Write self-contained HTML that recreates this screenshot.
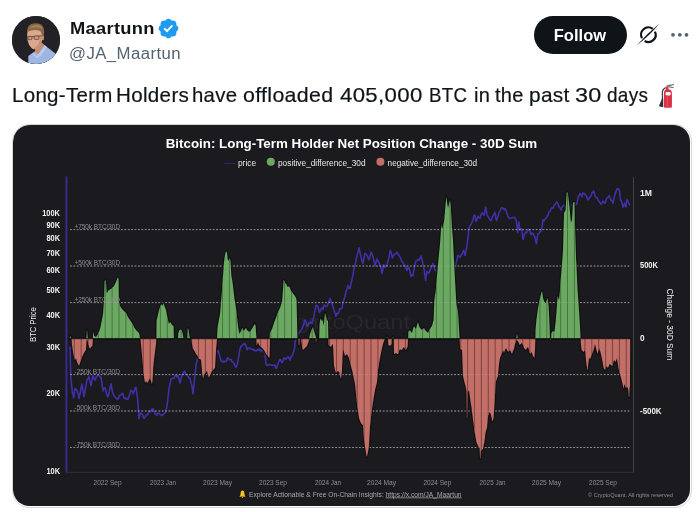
<!DOCTYPE html>
<html lang="en">
<head>
<meta charset="utf-8">
<title>Maartunn on X</title>
<style>
html,body{margin:0;padding:0;background:#fff;}
body{width:700px;height:512px;position:relative;overflow:hidden;font-family:"Liberation Sans",sans-serif;color:#0f1419;}
.avatar{position:absolute;left:12px;top:16px;width:48px;height:48px;border-radius:50%;overflow:hidden;background:#222126;}
.name{position:absolute;left:70px;top:18.4px;font-size:17px;line-height:22px;font-weight:700;letter-spacing:0.3px;white-space:nowrap;transform:scaleX(1.075);transform-origin:0 0;}
.badge{position:absolute;left:156.6px;top:16.9px;width:23px;height:23px;}
.handle{position:absolute;left:69px;top:42.6px;font-size:15.6px;line-height:22px;color:#536471;letter-spacing:0.4px;white-space:nowrap;transform:scaleX(1.075);transform-origin:0 0;}
.follow{position:absolute;left:534px;top:16px;width:93px;height:38px;border-radius:19px;background:#0f1419;color:#fff;font-weight:700;font-size:16.5px;line-height:38px;text-align:center;letter-spacing:0.05px;text-indent:-1px;}
.grok{position:absolute;left:634px;top:21px;width:28px;height:28px;}
.more{position:absolute;left:668px;top:30px;width:24px;height:10px;}
.text{position:absolute;left:0;top:81.7px;width:700px;height:26px;font-size:19.8px;line-height:26px;letter-spacing:0.3px;white-space:nowrap;-webkit-text-stroke:0.2px #0f1419;}
.text span{position:absolute;top:0;transform-origin:0 0;}
.emoji{position:absolute;left:656px;top:82px;width:22px;height:26px;}
.media{position:absolute;left:12px;top:124px;width:680px;height:384px;box-sizing:border-box;border:1px solid #cfd9de;border-radius:17.5px;overflow:hidden;background:#fff;}
.chart{position:absolute;left:0;top:0;border-radius:16.5px;display:block;}
</style>
</head>
<body>
<div class="avatar">
<svg width="48" height="48" viewBox="12 16 48 48">
<rect x="12" y="16" width="48" height="48" fill="#222126"/>
<path d="M28.3 64 L28.3 55.9 L33.5 52.2 L44.7 45.2 L55.4 53.4 L56.5 64 Z" fill="#9fb5e2"/>
<path d="M35.3 49 L41.6 42.5 L45.2 45.6 L38.5 54 L34.6 52.4 Z" fill="#c48e76"/>
<path d="M33.2 52.4 L36.8 56.4 L40.5 51 L44.8 45.3 L46.8 47 L41 55.5 L37 58.5 L32.8 54 Z" fill="#b9caee"/>
<ellipse cx="42.7" cy="37.6" rx="1.4" ry="2.7" fill="#c9917a"/>
<path d="M27.3 31 Q26.9 37 27.6 40.4 Q28.6 45.2 31.4 48 Q33.4 49.9 35.6 49 L40.8 44.4 Q42.5 40 42.2 35 L41.5 30.5 Q34 27.5 27.3 31 Z" fill="#dca88c"/>
<path d="M36 49 L40.8 44.4 Q42.4 40.5 42.2 36 L40 37 Q40 42 37 45.5 Q35 48 33 48.8 Z" fill="#c9937a"/>
<path d="M27.1 32 Q26.6 26 32 23.8 Q37 22.4 41.2 24.6 Q44.8 27.4 44 34 L43.5 36.4 L41.6 35.6 Q41.9 32 39.6 30.8 Q34 29 28.2 31.6 L27.4 33.6 Z" fill="#8a6847"/>
<path d="M29 28.6 Q33 24.4 38.5 25 Q41.5 26 42.6 29 Q38 26.6 33.4 27.6 Z" fill="#a6835a"/>
<path d="M27.2 36.9 L41.8 35.9" stroke="#3a2e2a" stroke-width="0.7" fill="none"/>
<rect x="27.8" y="36.3" width="4.3" height="3.4" rx="1.4" fill="#c9957d" stroke="#3a2e2a" stroke-width="0.6"/>
<rect x="33.9" y="35.9" width="5.2" height="3.6" rx="1.5" fill="#c9957d" stroke="#3a2e2a" stroke-width="0.6"/>
</svg>
</div>
<div class="name">Maartunn</div>
<svg class="badge" viewBox="0 0 24 24"><path fill="#1d9bf0" d="M22.25 12c0-1.43-.88-2.67-2.19-3.34.46-1.39.2-2.9-.81-3.91s-2.52-1.27-3.91-.81c-.66-1.31-1.91-2.19-3.34-2.19s-2.67.88-3.33 2.19c-1.4-.46-2.91-.2-3.92.81s-1.26 2.52-.8 3.91c-1.31.67-2.2 1.91-2.2 3.34s.89 2.67 2.2 3.34c-.46 1.39-.21 2.9.8 3.91s2.52 1.26 3.91.81c.67 1.31 1.91 2.19 3.34 2.19s2.68-.88 3.34-2.19c1.39.45 2.9.2 3.91-.81s1.27-2.52.81-3.91c1.31-.67 2.19-1.91 2.19-3.34z"/><path fill="#fff" d="M10.54 16.2l-3.74-3.74 1.41-1.42 2.26 2.26 4.8-5.23 1.47 1.36z"/></svg>
<div class="handle">@JA_Maartun</div>
<div class="follow">Follow</div>
<svg class="grok" viewBox="634 21 28 28">
<path d="M641.99 38.33 A7.3 7.3 0 0 1 652.77 28.94" fill="none" stroke="#0f1419" stroke-width="2.2"/>
<path d="M654.94 31.61 A7.3 7.3 0 0 1 644.59 41.01" fill="none" stroke="#0f1419" stroke-width="2.2"/>
<path d="M636.9 45.3 Q647 33.4 659.3 23.7 Q649.4 35.8 636.9 45.3 Z" fill="#0f1419"/>
</svg>
<svg class="more" viewBox="668 30 24 10"><circle cx="673" cy="34.8" r="1.9" fill="#536471"/><circle cx="679.8" cy="34.8" r="1.9" fill="#536471"/><circle cx="686.5" cy="34.8" r="1.9" fill="#536471"/></svg>
<div class="text"><span style="left:12.00px;transform:scaleX(1.0360)">Long-Term</span> <span style="left:115.60px;transform:scaleX(1.0412)">Holders</span> <span style="left:192.35px;transform:scaleX(1.0279)">have</span> <span style="left:243.40px;transform:scaleX(1.0789)">offloaded</span> <span style="left:340.10px;transform:scaleX(1.1221)">405,000</span> <span style="left:429.15px;transform:scaleX(0.9443)">BTC</span> <span style="left:473.65px;transform:scaleX(1.0115)">in</span> <span style="left:494.95px;transform:scaleX(1.0105)">the</span> <span style="left:528.80px;transform:scaleX(1.0547)">past</span> <span style="left:575.40px;transform:scaleX(1.1833)">30</span> <span style="left:607.35px;transform:scaleX(0.9592)">days</span></div>
<svg class="emoji" viewBox="656 82 22 26">
<path d="M665.6 87.6 Q662.2 89.4 662.3 93.5 L662.4 99" fill="none" stroke="#292f33" stroke-width="1.1"/>
<path d="M662 98.4 L663.2 98.6 L663.2 107.2 L658.9 106.2 Z" fill="#292f33"/>
<path d="M666.2 85.2 L673.9 83.9 L674.1 84.9 L668 86.6 Z" fill="#66757f"/>
<path d="M668.8 86 L673.8 87.2 L673.5 88.3 L668.4 87.2 Z" fill="#66757f"/>
<rect x="665.7" y="86.4" width="2.8" height="3.4" fill="#dd2e44"/>
<circle cx="666.5" cy="87" r="0.7" fill="#77b255"/>
<path d="M663.9 107.4 L663.9 93 Q663.9 89.2 667.9 89.2 Q671.9 89.2 671.9 93 L671.9 107.4 Q667.9 107.9 663.9 107.4 Z" fill="#dd2e44"/>
<rect x="666.6" y="96" width="1.6" height="11" fill="#e85064" opacity="0.8"/>
<rect x="665.4" y="92.1" width="5.4" height="3.4" rx="1.4" fill="#f5f8fa"/>
</svg>
<div class="media">
<svg class="chart" width="677" height="381" viewBox="13 125 677 381" font-family="Liberation Sans, sans-serif">
<rect x="13" y="125" width="677" height="381" fill="#1b1a1f"/>
<text x="276" y="329" font-size="20.5" fill="#28272d" textLength="134" lengthAdjust="spacingAndGlyphs">CryptoQuant</text>
<line x1="66.4" y1="176.6" x2="66.4" y2="472.5" stroke="#372b8c" stroke-width="2"/>
<line x1="633.5" y1="177" x2="633.5" y2="472.5" stroke="#424248" stroke-width="1"/>
<line x1="66" y1="472.3" x2="634" y2="472.3" stroke="#303036" stroke-width="1"/>
<polyline points="70.0,347.0 70.5,364.8 71.0,380.3 71.7,385.9 72.3,391.8 72.9,394.4 73.6,397.9 74.3,393.7 75.0,388.3 75.7,389.3 76.3,389.5 77.0,390.2 77.7,392.8 78.3,394.3 79.0,398.5 79.8,394.8 80.5,391.3 81.2,387.0 82.0,384.0 83.0,390.5 84.0,396.7 84.8,392.7 85.5,388.0 86.2,384.3 87.0,379.6 87.7,379.2 88.3,378.2 89.0,376.6 89.7,380.7 90.3,382.7 91.0,385.7 91.7,381.6 92.3,378.6 93.0,375.8 93.7,377.3 94.3,379.0 95.0,380.1 95.8,378.2 96.5,376.4 97.2,375.7 98.0,375.7 98.8,375.0 99.5,376.1 100.2,377.3 101.0,377.1 102.0,384.0 103.0,390.8 103.7,388.1 104.3,388.5 105.0,387.9 105.8,390.0 106.5,393.3 107.2,395.5 108.0,397.1 108.8,394.5 109.5,390.4 110.2,387.1 111.0,383.9 112.0,389.2 113.0,394.1 113.7,394.2 114.3,396.4 115.0,396.6 115.7,397.7 116.3,398.2 117.0,399.4 117.8,398.7 118.5,398.8 119.2,395.8 120.0,395.1 120.7,395.1 121.3,394.9 122.0,393.3 122.7,393.5 123.3,394.8 124.0,398.2 124.7,397.7 125.3,397.7 126.0,399.1 126.7,399.3 127.3,398.9 128.0,399.1 128.8,396.8 129.5,395.0 130.2,392.4 131.0,390.3 131.7,391.3 132.3,391.1 133.0,393.8 133.8,392.1 134.5,390.3 135.2,387.8 136.0,387.6 137.0,394.5 137.6,398.9 138.3,408.9 139.0,418.6 140.0,414.2 141.0,413.0 141.8,413.8 142.5,414.9 143.2,416.7 144.0,418.4 144.8,417.1 145.5,416.7 146.2,415.1 147.0,414.8 147.8,414.6 148.5,413.0 149.2,411.5 150.0,411.6 150.8,411.4 151.5,409.7 152.2,408.7 153.0,408.9 153.8,410.4 154.5,411.8 155.2,414.3 156.0,414.4 156.8,415.3 157.5,413.2 158.2,413.0 159.0,413.4 159.8,414.2 160.5,414.5 161.2,415.0 162.0,415.7 162.8,414.9 163.5,414.3 164.2,413.4 165.0,413.2 166.0,410.3 167.0,406.0 168.0,397.5 169.0,388.3 170.0,384.2 171.0,379.2 171.8,378.5 172.5,378.3 173.2,378.2 174.0,378.6 175.0,375.8 176.0,375.2 177.0,377.1 178.0,375.5 179.0,379.3 180.0,383.1 181.0,379.2 182.0,375.1 183.0,372.7 183.7,372.4 184.4,371.2 185.1,371.7 185.7,374.5 186.3,374.2 187.0,374.7 187.8,375.9 188.5,376.9 189.2,378.5 190.0,378.4 191.0,382.7 191.6,384.6 192.3,388.3 193.0,394.0 193.7,387.6 194.4,380.5 195.2,373.9 196.0,365.0 197.0,360.8 198.0,356.8 199.0,357.4 200.0,359.7 200.7,356.9 201.3,358.7 202.0,356.6 202.7,357.4 203.3,355.6 204.0,356.1 204.7,356.6 205.3,355.6 206.0,355.6 206.7,355.8 207.3,355.3 208.0,354.9 208.7,355.8 209.3,355.3 210.0,354.3 210.7,356.0 211.3,353.5 212.0,354.5 212.7,353.5 213.3,353.4 214.0,353.4 214.7,352.8 215.3,352.7 216.0,351.1 216.7,350.8 217.3,351.7 218.0,350.4 219.0,353.4 220.0,357.1 221.0,360.8 222.0,361.4 222.8,362.1 223.5,360.9 224.2,361.8 225.0,361.3 225.8,361.5 226.5,361.0 227.2,358.0 228.0,357.9 229.0,359.1 230.0,359.9 231.0,359.3 232.0,361.8 233.0,361.9 234.0,363.6 234.6,365.2 235.2,366.2 235.8,367.4 236.4,366.4 237.2,364.7 238.0,360.9 239.0,354.9 240.0,348.9 241.0,346.6 242.0,345.6 242.8,344.6 243.5,344.1 244.2,344.7 245.0,343.4 246.0,345.6 247.0,349.8 248.0,347.9 249.0,348.5 249.8,348.4 250.5,348.1 251.2,348.7 252.0,349.5 252.8,349.3 253.5,350.3 254.2,349.7 255.0,350.6 255.8,350.9 256.5,351.0 257.2,349.6 258.0,350.5 258.8,349.1 259.5,349.8 260.2,349.6 261.0,351.6 262.0,349.8 263.0,350.0 264.0,351.9 265.0,354.0 265.5,358.6 266.0,364.1 267.0,365.6 268.0,365.0 269.0,364.8 270.0,364.6 271.0,364.9 272.0,365.2 273.0,365.2 274.0,365.6 274.6,364.8 275.2,366.1 275.8,367.9 276.4,368.5 277.2,365.5 278.0,363.5 279.0,361.6 280.0,359.3 281.0,360.6 282.0,362.6 283.0,361.1 284.0,357.7 285.0,358.5 286.0,359.5 287.0,357.6 288.0,356.9 289.0,357.8 290.0,360.2 291.0,356.6 292.0,356.2 293.0,353.6 294.0,350.8 294.5,348.4 295.0,343.8 295.5,339.7 296.0,337.5 297.0,336.2 298.0,333.7 298.8,333.5 299.5,332.4 300.2,331.4 301.0,330.2 301.8,329.3 302.5,327.4 303.2,325.8 304.0,322.7 304.5,321.5 305.0,319.8 306.0,321.8 307.0,325.7 307.8,326.2 308.5,322.9 309.2,323.3 310.0,323.5 311.0,321.9 312.0,323.4 313.0,320.1 314.0,315.9 315.0,310.3 316.0,305.5 317.0,305.5 318.0,306.9 319.0,311.2 319.6,312.5 320.2,311.0 320.8,309.9 321.4,308.4 322.0,307.8 323.0,309.5 324.0,305.1 325.0,305.5 326.0,306.5 327.0,306.6 328.0,303.7 329.0,301.4 330.0,298.4 331.0,301.4 332.0,303.3 333.0,307.0 334.0,310.3 335.0,313.0 336.0,316.3 337.0,313.3 338.0,313.6 339.0,311.2 340.0,308.6 341.0,308.8 342.0,308.1 343.0,302.2 344.0,299.6 345.0,296.2 346.0,292.1 347.0,288.8 348.0,285.4 349.0,288.3 350.0,288.6 351.0,283.3 352.0,279.2 353.0,275.0 354.0,268.6 355.0,265.1 356.0,260.5 357.0,255.5 358.0,252.2 359.0,247.7 360.0,252.6 361.0,257.0 362.0,260.8 363.0,263.6 364.0,257.9 365.0,253.3 366.0,254.2 367.0,255.4 368.0,257.6 369.0,259.8 370.0,256.5 371.0,252.0 372.0,254.0 373.0,256.6 374.0,261.0 375.0,265.9 376.0,262.1 377.0,259.0 378.0,261.1 379.0,262.9 380.0,264.7 381.0,268.3 382.0,273.6 382.8,269.3 383.6,264.9 384.3,266.8 385.0,267.4 386.0,265.4 387.0,265.0 388.0,260.4 389.0,257.4 389.7,253.3 390.4,250.4 391.4,253.9 392.4,257.9 393.4,255.8 394.4,254.2 395.0,253.8 395.7,253.8 396.4,253.0 397.0,252.1 398.0,254.4 399.0,255.4 400.0,257.0 401.0,259.4 402.0,261.5 403.0,262.6 404.0,264.6 405.0,265.4 406.0,267.9 407.0,270.4 408.0,267.8 409.0,267.6 410.0,271.4 411.0,276.5 412.0,274.9 413.0,275.5 414.0,269.7 415.0,263.9 416.0,261.1 417.0,260.6 418.0,259.3 419.0,260.5 420.0,258.6 421.0,256.0 422.0,259.3 423.0,264.1 424.0,268.2 424.8,274.7 425.6,280.5 426.3,275.0 427.0,271.5 428.0,272.3 429.0,273.1 430.0,270.0 431.0,267.9 432.0,266.4 433.0,263.4 434.0,266.6 435.0,270.0 435.7,270.1 436.4,271.7 437.1,270.4 437.8,270.8 438.6,271.1 439.3,270.7 440.0,270.0 440.7,269.6 441.4,268.6 442.1,270.2 442.9,269.2 443.6,269.2 444.3,267.8 445.0,267.9 445.7,266.6 446.4,267.9 447.1,267.7 447.9,265.7 448.6,266.5 449.3,266.7 450.0,264.9 450.7,265.2 451.3,266.0 452.0,266.6 452.7,266.5 453.3,267.7 454.0,268.1 455.0,270.4 455.5,266.4 456.0,262.9 457.0,259.7 458.0,255.2 459.0,256.7 460.0,257.4 461.0,255.4 462.0,254.0 462.8,252.0 463.6,250.3 464.3,252.0 465.0,255.3 466.0,251.0 467.0,245.9 468.0,236.8 469.0,228.0 470.0,225.5 471.0,224.4 472.0,222.2 473.0,219.9 473.7,216.6 474.4,214.9 475.2,216.9 476.0,221.4 477.0,219.5 478.0,216.1 479.0,217.6 480.0,218.1 481.0,214.7 482.0,212.8 483.0,213.8 484.0,215.3 484.8,211.4 485.6,207.0 486.3,210.5 487.0,214.9 488.0,216.5 489.0,218.4 490.0,219.7 491.0,220.6 492.0,217.7 493.0,215.8 494.0,214.1 495.0,212.3 495.7,216.9 496.4,220.7 497.2,218.6 498.0,216.3 499.0,212.8 500.0,211.4 501.0,208.3 502.0,207.7 503.0,208.1 504.0,209.7 505.0,208.6 506.0,210.5 507.0,213.6 508.0,216.4 509.0,218.4 510.0,218.2 511.0,218.3 512.0,217.5 513.0,217.6 514.0,217.3 515.0,217.9 516.0,219.3 516.8,224.4 517.6,232.7 518.3,226.4 519.0,222.1 519.5,227.3 520.0,229.9 520.8,229.0 521.6,228.7 522.3,234.0 523.0,239.5 523.7,237.2 524.4,234.3 525.0,233.7 525.7,232.0 526.4,232.8 527.0,232.0 528.0,230.0 529.0,229.2 530.0,231.2 531.0,234.8 532.0,233.1 533.0,233.4 534.0,235.2 535.0,237.6 535.7,240.9 536.4,243.8 537.2,238.0 538.0,233.6 539.0,233.5 540.0,232.0 540.8,230.7 541.6,229.9 542.3,224.7 543.0,219.7 544.0,220.9 545.0,219.0 546.0,218.5 547.0,216.6 548.0,215.0 549.0,212.0 550.0,211.6 551.0,208.8 552.0,207.8 553.0,208.1 554.0,205.5 555.0,204.7 556.0,202.7 557.0,202.0 558.0,204.3 559.0,206.9 560.0,207.8 561.0,210.0 562.0,207.1 563.0,206.0 564.0,205.2 565.0,206.3 566.0,206.9 567.0,207.5 568.0,207.6 569.0,206.7 570.0,207.9 571.0,206.0 572.0,203.9 573.0,202.7 574.0,201.6 575.0,203.4 576.0,204.8 577.0,203.2 577.7,199.3 578.4,196.3 579.2,195.8 580.0,193.2 581.0,194.5 582.0,196.7 583.0,192.9 584.0,193.3 585.0,194.6 586.0,195.1 587.0,197.7 588.0,199.9 589.0,198.7 590.0,197.0 591.0,196.0 592.0,192.9 592.8,192.0 593.6,191.0 594.3,192.9 595.0,195.4 596.0,197.4 597.0,197.6 598.0,199.9 599.0,201.4 600.0,202.7 601.0,204.3 602.0,202.9 603.0,201.2 604.0,202.5 605.0,203.3 606.0,200.2 607.0,197.9 608.0,197.4 609.0,195.5 610.0,197.9 611.0,200.1 612.0,200.7 613.0,203.1 613.7,199.4 614.4,196.9 615.2,193.7 616.0,191.5 617.0,189.1 618.0,188.4 618.7,189.5 619.4,189.9 620.0,196.4 620.6,200.5 621.3,200.5 622.0,203.4 622.5,204.9 623.0,207.3 623.7,205.7 624.4,203.1 625.2,204.9 626.0,206.9 626.5,202.7 627.0,199.4 627.7,200.7 628.4,202.3 629.0,203.7 629.6,205.0" fill="none" stroke="#3f30a6" stroke-width="1.6" stroke-linejoin="round" stroke-linecap="round"/>
<line x1="70" y1="229.6" x2="631" y2="229.6" stroke="#c9c9cc" stroke-width="1" stroke-dasharray="1.8 1.6" opacity="0.55"/>
<line x1="70" y1="266" x2="631" y2="266" stroke="#c9c9cc" stroke-width="1" stroke-dasharray="1.8 1.6" opacity="0.55"/>
<line x1="70" y1="302.6" x2="631" y2="302.6" stroke="#c9c9cc" stroke-width="1" stroke-dasharray="1.8 1.6" opacity="0.55"/>
<line x1="70" y1="374.6" x2="631" y2="374.6" stroke="#c9c9cc" stroke-width="1" stroke-dasharray="1.8 1.6" opacity="0.55"/>
<line x1="70" y1="411" x2="631" y2="411" stroke="#c9c9cc" stroke-width="1" stroke-dasharray="1.8 1.6" opacity="0.55"/>
<line x1="70" y1="447.5" x2="631" y2="447.5" stroke="#c9c9cc" stroke-width="1" stroke-dasharray="1.8 1.6" opacity="0.55"/>
<g fill="#111114" stroke="#111114" stroke-width="2.4" stroke-linejoin="round">
<polygon points="69.5,338.6 70.4,336.0 71.3,338.6"/>
<polygon points="86.4,338.6 87.0,329.6 87.8,338.6"/>
<polygon points="92.8,338.6 93.4,331.0 94.2,336.0 96.0,337.0 98.0,334.0 100.0,329.0 101.5,322.0 103.0,314.0 104.0,300.0 104.6,281.0 105.4,280.0 106.0,282.0 106.6,292.0 107.0,293.0 108.0,291.0 109.0,290.0 111.0,289.0 112.5,287.5 114.0,286.0 116.0,282.0 117.4,278.0 118.0,277.6 118.6,279.0 119.0,302.0 120.0,306.0 122.0,309.0 124.0,311.0 126.0,313.0 128.0,317.0 130.0,320.0 132.0,323.0 134.0,327.0 136.0,330.0 139.0,333.0 140.4,338.6"/>
<polygon points="156.4,338.6 156.6,320.0 157.0,319.0 158.5,312.0 160.0,307.0 161.5,304.0 162.5,306.0 163.6,303.0 164.5,306.0 166.0,310.0 167.5,318.0 169.0,324.0 170.0,322.0 171.0,323.0 172.0,325.0 173.6,326.0 174.0,338.6"/>
<polygon points="178.0,338.6 178.4,333.0 179.5,330.0 181.0,329.6 182.0,331.0 183.0,335.0 183.4,338.6"/>
<polygon points="187.2,338.6 187.8,328.0 188.6,330.0 189.4,336.0 190.0,338.6"/>
<polygon points="217.0,338.6 217.5,328.0 218.5,322.0 220.0,314.0 221.0,302.0 222.0,290.0 223.0,276.0 224.0,262.0 225.0,255.0 225.6,252.0 226.3,251.5 227.0,253.0 227.8,260.0 228.4,261.0 229.2,259.0 230.0,258.4 230.6,262.0 231.4,276.0 232.2,280.0 233.0,286.0 233.8,293.0 234.4,298.0 235.2,303.0 236.0,308.0 237.0,317.0 238.0,326.0 239.0,332.0 239.6,334.0 240.4,332.0 241.0,331.0 241.8,329.0 242.4,328.0 243.2,330.0 244.0,331.0 245.0,329.0 246.0,328.0 247.0,330.0 248.0,331.0 249.0,331.5 250.0,332.0 251.0,330.0 252.0,329.0 253.5,326.0 255.0,324.0 255.6,326.0 256.4,338.6"/>
<polygon points="269.6,338.6 269.8,333.0 271.0,331.0 272.0,329.0 273.0,326.0 274.0,323.0 275.5,319.0 277.0,315.0 278.5,311.0 280.0,308.0 281.0,305.0 282.0,302.0 282.8,292.0 283.6,280.0 284.4,281.0 285.2,284.0 286.0,283.0 287.0,286.0 288.0,287.0 289.0,286.0 290.0,288.0 291.0,291.0 292.0,292.0 293.5,294.0 295.0,296.0 296.0,298.0 296.6,300.0 297.4,338.6"/>
<polygon points="309.0,338.6 310.0,334.0 311.5,330.0 313.0,327.0 314.0,331.0 315.0,334.0 316.4,338.6"/>
<polygon points="319.0,338.6 319.6,324.0 320.4,318.0 321.2,321.0 322.0,319.0 323.0,322.0 323.8,326.0 324.4,318.0 325.0,313.0 326.0,316.0 327.0,320.0 328.0,321.0 328.4,338.6"/>
<polygon points="386.4,338.6 387.0,336.4 387.6,338.6"/>
<polygon points="392.4,338.6 393.0,336.4 393.6,338.6"/>
<polygon points="408.0,338.6 408.2,332.0 409.0,331.0 410.0,330.0 411.0,332.0 412.0,333.0 413.0,329.0 414.0,326.0 415.0,328.0 416.0,329.0 417.0,325.0 418.0,322.0 419.0,326.0 420.0,328.0 421.0,329.0 422.0,330.0 423.0,329.0 424.0,328.0 425.0,330.0 426.0,331.0 427.0,332.0 428.0,333.0 429.0,331.0 430.0,329.0 431.0,327.0 432.0,326.0 433.0,322.0 433.6,320.0 434.0,308.0 434.4,300.0 435.0,295.0 435.6,292.0 436.3,284.0 437.0,276.0 437.7,268.0 438.4,260.0 439.2,252.0 440.0,244.0 440.7,234.0 441.4,224.0 442.0,229.0 442.4,228.0 443.2,225.0 444.0,222.0 444.8,213.0 445.6,204.0 446.4,196.4 447.2,203.0 448.0,208.0 449.0,204.0 450.0,200.0 450.6,205.0 451.0,210.0 451.6,220.0 452.0,228.0 453.0,240.0 454.0,260.0 455.0,280.0 455.7,292.0 456.4,304.0 457.2,308.0 458.0,312.0 458.6,320.0 459.0,328.0 459.6,338.6"/>
<polygon points="516.3,338.6 517.0,333.6 517.8,338.6"/>
<polygon points="535.4,338.6 535.5,330.0 536.4,320.0 537.2,314.0 538.0,308.0 538.8,304.0 539.6,300.0 540.3,297.0 541.0,294.0 541.5,292.0 542.0,291.0 542.5,294.0 543.0,298.0 543.7,300.0 544.4,302.0 545.2,302.5 546.0,303.0 546.8,300.0 547.6,298.0 548.1,302.0 548.6,306.0 549.1,316.0 549.6,326.0 549.9,338.6"/>
<polygon points="551.2,338.6 551.4,333.0 552.2,332.0 553.0,331.0 553.7,331.5 554.4,332.0 555.0,327.0 555.6,322.0 556.1,316.0 556.6,310.0 557.1,303.0 557.6,296.0 558.3,298.0 559.0,300.0 559.5,295.0 560.0,290.0 560.5,283.0 561.0,276.0 561.5,270.0 562.0,264.0 562.5,257.0 563.0,250.0 563.5,231.0 564.0,213.0 564.8,211.5 565.6,210.0 566.1,201.0 566.6,193.0 567.3,192.0 568.0,194.0 568.7,200.0 569.4,206.0 570.2,215.0 571.0,223.0 571.5,221.0 572.0,220.0 572.5,211.0 573.0,203.0 573.7,202.0 574.4,202.0 574.8,216.0 575.2,230.0 575.6,244.0 576.0,258.0 576.5,265.0 577.0,278.0 577.6,290.0 578.3,300.0 579.0,310.0 579.5,318.0 580.0,326.0 580.6,338.6"/>
<polygon points="71.5,338.6 72.0,345.0 73.0,352.0 74.0,357.0 75.0,360.0 76.0,358.0 77.0,362.0 78.0,364.0 79.0,366.0 80.0,363.0 81.0,360.0 82.0,357.0 83.0,355.0 84.0,353.0 85.0,351.0 86.0,350.0 86.6,340.0 87.4,340.0 88.0,342.0 89.0,347.0 90.0,349.0 91.0,347.0 92.4,346.0 93.0,338.6"/>
<polygon points="140.4,338.6 141.0,345.0 142.0,355.0 143.0,367.0 144.0,377.0 145.0,383.0 146.0,381.0 147.0,383.0 148.0,382.0 149.0,380.0 150.0,378.0 151.0,381.0 152.0,384.4 152.6,380.0 153.2,368.0 154.0,360.0 155.0,352.0 156.0,344.0 156.4,338.6"/>
<polygon points="191.6,338.6 192.0,344.0 193.0,349.0 194.5,351.0 196.0,354.0 197.5,356.0 199.0,359.0 200.0,359.0 201.0,360.0 201.6,366.0 202.3,374.0 203.0,379.0 204.0,375.0 205.0,373.0 206.0,372.0 207.0,371.0 208.0,375.0 209.0,378.0 210.0,375.0 211.0,373.0 212.0,371.0 213.0,370.0 214.0,369.0 215.0,368.0 215.5,360.0 216.0,350.0 216.6,344.0 217.0,338.6"/>
<polygon points="256.4,338.6 256.6,346.0 257.3,344.0 258.0,342.0 259.0,345.0 260.0,346.0 261.0,347.0 262.0,348.0 263.0,349.0 264.0,350.0 265.0,352.0 266.0,354.0 267.0,355.0 268.0,356.0 269.0,358.0 269.6,357.0 270.0,338.6"/>
<polygon points="298.4,338.6 298.8,345.0 299.2,346.0 299.8,338.6"/>
<polygon points="301.0,338.6 301.6,343.0 302.3,348.0 303.0,350.0 304.0,349.0 305.0,348.0 306.0,347.0 307.0,346.0 308.0,343.0 309.0,341.0 309.5,338.6"/>
<polygon points="315.6,338.6 316.0,343.0 316.6,338.6"/>
<polygon points="328.4,338.6 328.6,345.0 329.8,346.0 331.0,347.0 332.0,345.0 333.0,344.0 333.5,355.0 334.0,366.0 335.0,370.0 336.0,373.0 337.0,371.0 338.0,372.0 339.0,371.0 340.0,376.0 341.0,379.0 341.6,374.0 342.0,370.0 342.5,358.0 343.0,348.0 344.0,352.0 345.0,356.0 346.0,355.0 347.0,354.0 348.0,356.0 349.0,358.0 350.0,362.0 351.0,366.0 352.0,370.0 353.0,374.0 354.0,379.0 355.0,384.0 356.0,394.0 357.0,404.0 358.0,411.0 359.0,418.0 360.0,421.0 361.0,423.0 362.0,424.5 363.0,425.0 363.5,432.0 364.0,440.0 364.8,445.0 365.6,450.0 366.1,454.0 366.6,457.0 367.3,455.0 368.0,452.0 368.5,449.0 369.0,445.0 369.5,436.0 370.0,426.0 370.8,419.0 371.6,412.0 372.3,407.0 373.0,402.0 374.0,396.0 375.0,390.0 376.0,386.0 377.0,382.0 377.5,376.0 378.0,370.0 379.0,364.0 380.0,358.0 381.0,353.0 382.0,348.0 383.0,344.0 384.0,341.0 385.0,338.6"/>
<polygon points="388.0,338.6 388.4,345.0 390.0,346.0 391.6,344.0 392.0,338.6"/>
<polygon points="393.8,338.6 394.0,354.0 395.0,353.5 396.0,353.0 397.0,354.0 398.0,354.0 399.0,351.0 400.0,349.0 401.0,350.0 402.0,350.0 403.0,348.0 404.0,347.0 405.0,349.0 406.0,350.0 407.0,347.5 407.6,347.0 408.0,338.6"/>
<polygon points="459.6,338.6 460.0,347.0 460.4,349.0 461.2,349.5 462.0,350.0 462.5,363.0 463.0,376.0 463.7,379.0 464.4,382.0 465.2,385.0 466.0,388.0 466.5,392.0 466.8,418.0 467.2,418.0 467.5,392.0 468.0,392.0 469.0,390.0 469.5,394.0 470.0,398.0 470.8,403.0 471.6,408.0 472.3,414.0 473.0,420.0 473.7,425.0 474.4,430.0 475.2,435.0 476.0,440.0 476.4,442.0 477.2,444.0 478.0,446.0 478.8,447.0 479.6,448.0 480.0,458.0 480.4,459.0 480.8,451.0 481.6,450.0 482.3,449.5 483.0,449.0 483.7,445.0 484.4,442.0 485.0,437.0 485.6,432.0 486.3,430.0 487.0,428.0 487.5,422.0 488.0,416.0 488.8,414.0 489.6,412.0 490.3,413.0 491.0,415.0 491.7,418.0 492.4,422.0 493.0,420.0 493.6,418.0 494.0,412.0 494.4,406.0 495.0,395.0 495.5,384.0 496.4,380.0 497.2,378.0 498.0,376.0 498.5,370.0 499.0,364.0 499.5,361.0 500.0,358.0 500.8,356.0 501.6,354.0 502.3,352.0 503.0,350.0 503.5,351.5 504.0,353.0 505.0,350.0 506.0,348.0 507.0,350.0 508.0,352.0 509.0,351.0 510.0,350.0 511.0,352.0 512.0,354.0 513.0,351.0 514.0,349.0 514.8,345.0 515.6,342.0 516.2,340.0 518.0,341.0 518.8,343.0 519.6,345.0 520.8,344.0 522.0,343.0 523.0,345.0 524.0,348.0 525.0,349.0 526.0,350.0 527.0,348.0 528.0,347.0 529.0,350.0 530.0,354.0 530.8,353.0 531.6,352.0 532.3,354.0 533.0,356.0 533.7,357.0 534.4,358.0 535.0,350.0 535.4,338.6"/>
<polygon points="550.2,338.6 550.6,341.0 551.0,338.6"/>
<polygon points="580.6,338.6 581.0,345.0 581.6,350.0 582.6,351.0 583.6,352.0 584.3,351.0 585.0,350.0 585.7,357.0 586.4,364.0 587.0,368.0 587.6,371.0 588.3,364.0 589.0,358.0 589.7,358.5 590.4,359.0 591.2,356.0 592.0,354.0 592.8,352.0 593.6,350.0 594.3,347.0 595.0,344.0 595.7,347.0 596.4,350.0 597.0,352.0 597.6,354.0 598.3,351.0 599.0,348.0 599.7,350.0 600.4,352.0 601.2,355.0 602.0,359.0 602.8,363.0 603.6,368.0 604.3,369.0 605.0,370.0 605.7,368.0 606.4,366.0 607.2,367.0 608.0,368.0 608.8,366.0 609.6,364.0 610.3,364.5 611.0,365.0 611.7,365.5 612.4,366.0 613.2,363.0 614.0,360.0 614.8,361.0 615.6,362.0 616.3,360.0 617.0,358.0 617.7,363.0 618.4,368.0 619.2,371.0 620.0,374.0 620.8,377.0 621.6,380.0 622.3,383.0 623.0,386.0 623.6,389.0 624.4,384.0 625.2,386.0 626.0,388.0 626.8,387.5 627.6,387.0 628.3,390.0 628.8,397.0 629.3,397.0 629.6,388.0 630.0,386.0 630.2,338.6"/>
</g>
<g fill="#6ba861"><polygon points="69.5,338.6 70.4,336.0 71.3,338.6"/>
<polygon points="86.4,338.6 87.0,329.6 87.8,338.6"/>
<polygon points="92.8,338.6 93.4,331.0 94.2,336.0 96.0,337.0 98.0,334.0 100.0,329.0 101.5,322.0 103.0,314.0 104.0,300.0 104.6,281.0 105.4,280.0 106.0,282.0 106.6,292.0 107.0,293.0 108.0,291.0 109.0,290.0 111.0,289.0 112.5,287.5 114.0,286.0 116.0,282.0 117.4,278.0 118.0,277.6 118.6,279.0 119.0,302.0 120.0,306.0 122.0,309.0 124.0,311.0 126.0,313.0 128.0,317.0 130.0,320.0 132.0,323.0 134.0,327.0 136.0,330.0 139.0,333.0 140.4,338.6"/>
<polygon points="156.4,338.6 156.6,320.0 157.0,319.0 158.5,312.0 160.0,307.0 161.5,304.0 162.5,306.0 163.6,303.0 164.5,306.0 166.0,310.0 167.5,318.0 169.0,324.0 170.0,322.0 171.0,323.0 172.0,325.0 173.6,326.0 174.0,338.6"/>
<polygon points="178.0,338.6 178.4,333.0 179.5,330.0 181.0,329.6 182.0,331.0 183.0,335.0 183.4,338.6"/>
<polygon points="187.2,338.6 187.8,328.0 188.6,330.0 189.4,336.0 190.0,338.6"/>
<polygon points="217.0,338.6 217.5,328.0 218.5,322.0 220.0,314.0 221.0,302.0 222.0,290.0 223.0,276.0 224.0,262.0 225.0,255.0 225.6,252.0 226.3,251.5 227.0,253.0 227.8,260.0 228.4,261.0 229.2,259.0 230.0,258.4 230.6,262.0 231.4,276.0 232.2,280.0 233.0,286.0 233.8,293.0 234.4,298.0 235.2,303.0 236.0,308.0 237.0,317.0 238.0,326.0 239.0,332.0 239.6,334.0 240.4,332.0 241.0,331.0 241.8,329.0 242.4,328.0 243.2,330.0 244.0,331.0 245.0,329.0 246.0,328.0 247.0,330.0 248.0,331.0 249.0,331.5 250.0,332.0 251.0,330.0 252.0,329.0 253.5,326.0 255.0,324.0 255.6,326.0 256.4,338.6"/>
<polygon points="269.6,338.6 269.8,333.0 271.0,331.0 272.0,329.0 273.0,326.0 274.0,323.0 275.5,319.0 277.0,315.0 278.5,311.0 280.0,308.0 281.0,305.0 282.0,302.0 282.8,292.0 283.6,280.0 284.4,281.0 285.2,284.0 286.0,283.0 287.0,286.0 288.0,287.0 289.0,286.0 290.0,288.0 291.0,291.0 292.0,292.0 293.5,294.0 295.0,296.0 296.0,298.0 296.6,300.0 297.4,338.6"/>
<polygon points="309.0,338.6 310.0,334.0 311.5,330.0 313.0,327.0 314.0,331.0 315.0,334.0 316.4,338.6"/>
<polygon points="319.0,338.6 319.6,324.0 320.4,318.0 321.2,321.0 322.0,319.0 323.0,322.0 323.8,326.0 324.4,318.0 325.0,313.0 326.0,316.0 327.0,320.0 328.0,321.0 328.4,338.6"/>
<polygon points="386.4,338.6 387.0,336.4 387.6,338.6"/>
<polygon points="392.4,338.6 393.0,336.4 393.6,338.6"/>
<polygon points="408.0,338.6 408.2,332.0 409.0,331.0 410.0,330.0 411.0,332.0 412.0,333.0 413.0,329.0 414.0,326.0 415.0,328.0 416.0,329.0 417.0,325.0 418.0,322.0 419.0,326.0 420.0,328.0 421.0,329.0 422.0,330.0 423.0,329.0 424.0,328.0 425.0,330.0 426.0,331.0 427.0,332.0 428.0,333.0 429.0,331.0 430.0,329.0 431.0,327.0 432.0,326.0 433.0,322.0 433.6,320.0 434.0,308.0 434.4,300.0 435.0,295.0 435.6,292.0 436.3,284.0 437.0,276.0 437.7,268.0 438.4,260.0 439.2,252.0 440.0,244.0 440.7,234.0 441.4,224.0 442.0,229.0 442.4,228.0 443.2,225.0 444.0,222.0 444.8,213.0 445.6,204.0 446.4,196.4 447.2,203.0 448.0,208.0 449.0,204.0 450.0,200.0 450.6,205.0 451.0,210.0 451.6,220.0 452.0,228.0 453.0,240.0 454.0,260.0 455.0,280.0 455.7,292.0 456.4,304.0 457.2,308.0 458.0,312.0 458.6,320.0 459.0,328.0 459.6,338.6"/>
<polygon points="516.3,338.6 517.0,333.6 517.8,338.6"/>
<polygon points="535.4,338.6 535.5,330.0 536.4,320.0 537.2,314.0 538.0,308.0 538.8,304.0 539.6,300.0 540.3,297.0 541.0,294.0 541.5,292.0 542.0,291.0 542.5,294.0 543.0,298.0 543.7,300.0 544.4,302.0 545.2,302.5 546.0,303.0 546.8,300.0 547.6,298.0 548.1,302.0 548.6,306.0 549.1,316.0 549.6,326.0 549.9,338.6"/>
<polygon points="551.2,338.6 551.4,333.0 552.2,332.0 553.0,331.0 553.7,331.5 554.4,332.0 555.0,327.0 555.6,322.0 556.1,316.0 556.6,310.0 557.1,303.0 557.6,296.0 558.3,298.0 559.0,300.0 559.5,295.0 560.0,290.0 560.5,283.0 561.0,276.0 561.5,270.0 562.0,264.0 562.5,257.0 563.0,250.0 563.5,231.0 564.0,213.0 564.8,211.5 565.6,210.0 566.1,201.0 566.6,193.0 567.3,192.0 568.0,194.0 568.7,200.0 569.4,206.0 570.2,215.0 571.0,223.0 571.5,221.0 572.0,220.0 572.5,211.0 573.0,203.0 573.7,202.0 574.4,202.0 574.8,216.0 575.2,230.0 575.6,244.0 576.0,258.0 576.5,265.0 577.0,278.0 577.6,290.0 578.3,300.0 579.0,310.0 579.5,318.0 580.0,326.0 580.6,338.6"/></g>
<g fill="#c26f68"><polygon points="71.5,338.6 72.0,345.0 73.0,352.0 74.0,357.0 75.0,360.0 76.0,358.0 77.0,362.0 78.0,364.0 79.0,366.0 80.0,363.0 81.0,360.0 82.0,357.0 83.0,355.0 84.0,353.0 85.0,351.0 86.0,350.0 86.6,340.0 87.4,340.0 88.0,342.0 89.0,347.0 90.0,349.0 91.0,347.0 92.4,346.0 93.0,338.6"/>
<polygon points="140.4,338.6 141.0,345.0 142.0,355.0 143.0,367.0 144.0,377.0 145.0,383.0 146.0,381.0 147.0,383.0 148.0,382.0 149.0,380.0 150.0,378.0 151.0,381.0 152.0,384.4 152.6,380.0 153.2,368.0 154.0,360.0 155.0,352.0 156.0,344.0 156.4,338.6"/>
<polygon points="191.6,338.6 192.0,344.0 193.0,349.0 194.5,351.0 196.0,354.0 197.5,356.0 199.0,359.0 200.0,359.0 201.0,360.0 201.6,366.0 202.3,374.0 203.0,379.0 204.0,375.0 205.0,373.0 206.0,372.0 207.0,371.0 208.0,375.0 209.0,378.0 210.0,375.0 211.0,373.0 212.0,371.0 213.0,370.0 214.0,369.0 215.0,368.0 215.5,360.0 216.0,350.0 216.6,344.0 217.0,338.6"/>
<polygon points="256.4,338.6 256.6,346.0 257.3,344.0 258.0,342.0 259.0,345.0 260.0,346.0 261.0,347.0 262.0,348.0 263.0,349.0 264.0,350.0 265.0,352.0 266.0,354.0 267.0,355.0 268.0,356.0 269.0,358.0 269.6,357.0 270.0,338.6"/>
<polygon points="298.4,338.6 298.8,345.0 299.2,346.0 299.8,338.6"/>
<polygon points="301.0,338.6 301.6,343.0 302.3,348.0 303.0,350.0 304.0,349.0 305.0,348.0 306.0,347.0 307.0,346.0 308.0,343.0 309.0,341.0 309.5,338.6"/>
<polygon points="315.6,338.6 316.0,343.0 316.6,338.6"/>
<polygon points="328.4,338.6 328.6,345.0 329.8,346.0 331.0,347.0 332.0,345.0 333.0,344.0 333.5,355.0 334.0,366.0 335.0,370.0 336.0,373.0 337.0,371.0 338.0,372.0 339.0,371.0 340.0,376.0 341.0,379.0 341.6,374.0 342.0,370.0 342.5,358.0 343.0,348.0 344.0,352.0 345.0,356.0 346.0,355.0 347.0,354.0 348.0,356.0 349.0,358.0 350.0,362.0 351.0,366.0 352.0,370.0 353.0,374.0 354.0,379.0 355.0,384.0 356.0,394.0 357.0,404.0 358.0,411.0 359.0,418.0 360.0,421.0 361.0,423.0 362.0,424.5 363.0,425.0 363.5,432.0 364.0,440.0 364.8,445.0 365.6,450.0 366.1,454.0 366.6,457.0 367.3,455.0 368.0,452.0 368.5,449.0 369.0,445.0 369.5,436.0 370.0,426.0 370.8,419.0 371.6,412.0 372.3,407.0 373.0,402.0 374.0,396.0 375.0,390.0 376.0,386.0 377.0,382.0 377.5,376.0 378.0,370.0 379.0,364.0 380.0,358.0 381.0,353.0 382.0,348.0 383.0,344.0 384.0,341.0 385.0,338.6"/>
<polygon points="388.0,338.6 388.4,345.0 390.0,346.0 391.6,344.0 392.0,338.6"/>
<polygon points="393.8,338.6 394.0,354.0 395.0,353.5 396.0,353.0 397.0,354.0 398.0,354.0 399.0,351.0 400.0,349.0 401.0,350.0 402.0,350.0 403.0,348.0 404.0,347.0 405.0,349.0 406.0,350.0 407.0,347.5 407.6,347.0 408.0,338.6"/>
<polygon points="459.6,338.6 460.0,347.0 460.4,349.0 461.2,349.5 462.0,350.0 462.5,363.0 463.0,376.0 463.7,379.0 464.4,382.0 465.2,385.0 466.0,388.0 466.5,392.0 466.8,418.0 467.2,418.0 467.5,392.0 468.0,392.0 469.0,390.0 469.5,394.0 470.0,398.0 470.8,403.0 471.6,408.0 472.3,414.0 473.0,420.0 473.7,425.0 474.4,430.0 475.2,435.0 476.0,440.0 476.4,442.0 477.2,444.0 478.0,446.0 478.8,447.0 479.6,448.0 480.0,458.0 480.4,459.0 480.8,451.0 481.6,450.0 482.3,449.5 483.0,449.0 483.7,445.0 484.4,442.0 485.0,437.0 485.6,432.0 486.3,430.0 487.0,428.0 487.5,422.0 488.0,416.0 488.8,414.0 489.6,412.0 490.3,413.0 491.0,415.0 491.7,418.0 492.4,422.0 493.0,420.0 493.6,418.0 494.0,412.0 494.4,406.0 495.0,395.0 495.5,384.0 496.4,380.0 497.2,378.0 498.0,376.0 498.5,370.0 499.0,364.0 499.5,361.0 500.0,358.0 500.8,356.0 501.6,354.0 502.3,352.0 503.0,350.0 503.5,351.5 504.0,353.0 505.0,350.0 506.0,348.0 507.0,350.0 508.0,352.0 509.0,351.0 510.0,350.0 511.0,352.0 512.0,354.0 513.0,351.0 514.0,349.0 514.8,345.0 515.6,342.0 516.2,340.0 518.0,341.0 518.8,343.0 519.6,345.0 520.8,344.0 522.0,343.0 523.0,345.0 524.0,348.0 525.0,349.0 526.0,350.0 527.0,348.0 528.0,347.0 529.0,350.0 530.0,354.0 530.8,353.0 531.6,352.0 532.3,354.0 533.0,356.0 533.7,357.0 534.4,358.0 535.0,350.0 535.4,338.6"/>
<polygon points="550.2,338.6 550.6,341.0 551.0,338.6"/>
<polygon points="580.6,338.6 581.0,345.0 581.6,350.0 582.6,351.0 583.6,352.0 584.3,351.0 585.0,350.0 585.7,357.0 586.4,364.0 587.0,368.0 587.6,371.0 588.3,364.0 589.0,358.0 589.7,358.5 590.4,359.0 591.2,356.0 592.0,354.0 592.8,352.0 593.6,350.0 594.3,347.0 595.0,344.0 595.7,347.0 596.4,350.0 597.0,352.0 597.6,354.0 598.3,351.0 599.0,348.0 599.7,350.0 600.4,352.0 601.2,355.0 602.0,359.0 602.8,363.0 603.6,368.0 604.3,369.0 605.0,370.0 605.7,368.0 606.4,366.0 607.2,367.0 608.0,368.0 608.8,366.0 609.6,364.0 610.3,364.5 611.0,365.0 611.7,365.5 612.4,366.0 613.2,363.0 614.0,360.0 614.8,361.0 615.6,362.0 616.3,360.0 617.0,358.0 617.7,363.0 618.4,368.0 619.2,371.0 620.0,374.0 620.8,377.0 621.6,380.0 622.3,383.0 623.0,386.0 623.6,389.0 624.4,384.0 625.2,386.0 626.0,388.0 626.8,387.5 627.6,387.0 628.3,390.0 628.8,397.0 629.3,397.0 629.6,388.0 630.0,386.0 630.2,338.6"/></g>
<clipPath id="cg"><polygon points="69.5,338.6 70.4,336.0 71.3,338.6"/>
<polygon points="86.4,338.6 87.0,329.6 87.8,338.6"/>
<polygon points="92.8,338.6 93.4,331.0 94.2,336.0 96.0,337.0 98.0,334.0 100.0,329.0 101.5,322.0 103.0,314.0 104.0,300.0 104.6,281.0 105.4,280.0 106.0,282.0 106.6,292.0 107.0,293.0 108.0,291.0 109.0,290.0 111.0,289.0 112.5,287.5 114.0,286.0 116.0,282.0 117.4,278.0 118.0,277.6 118.6,279.0 119.0,302.0 120.0,306.0 122.0,309.0 124.0,311.0 126.0,313.0 128.0,317.0 130.0,320.0 132.0,323.0 134.0,327.0 136.0,330.0 139.0,333.0 140.4,338.6"/>
<polygon points="156.4,338.6 156.6,320.0 157.0,319.0 158.5,312.0 160.0,307.0 161.5,304.0 162.5,306.0 163.6,303.0 164.5,306.0 166.0,310.0 167.5,318.0 169.0,324.0 170.0,322.0 171.0,323.0 172.0,325.0 173.6,326.0 174.0,338.6"/>
<polygon points="178.0,338.6 178.4,333.0 179.5,330.0 181.0,329.6 182.0,331.0 183.0,335.0 183.4,338.6"/>
<polygon points="187.2,338.6 187.8,328.0 188.6,330.0 189.4,336.0 190.0,338.6"/>
<polygon points="217.0,338.6 217.5,328.0 218.5,322.0 220.0,314.0 221.0,302.0 222.0,290.0 223.0,276.0 224.0,262.0 225.0,255.0 225.6,252.0 226.3,251.5 227.0,253.0 227.8,260.0 228.4,261.0 229.2,259.0 230.0,258.4 230.6,262.0 231.4,276.0 232.2,280.0 233.0,286.0 233.8,293.0 234.4,298.0 235.2,303.0 236.0,308.0 237.0,317.0 238.0,326.0 239.0,332.0 239.6,334.0 240.4,332.0 241.0,331.0 241.8,329.0 242.4,328.0 243.2,330.0 244.0,331.0 245.0,329.0 246.0,328.0 247.0,330.0 248.0,331.0 249.0,331.5 250.0,332.0 251.0,330.0 252.0,329.0 253.5,326.0 255.0,324.0 255.6,326.0 256.4,338.6"/>
<polygon points="269.6,338.6 269.8,333.0 271.0,331.0 272.0,329.0 273.0,326.0 274.0,323.0 275.5,319.0 277.0,315.0 278.5,311.0 280.0,308.0 281.0,305.0 282.0,302.0 282.8,292.0 283.6,280.0 284.4,281.0 285.2,284.0 286.0,283.0 287.0,286.0 288.0,287.0 289.0,286.0 290.0,288.0 291.0,291.0 292.0,292.0 293.5,294.0 295.0,296.0 296.0,298.0 296.6,300.0 297.4,338.6"/>
<polygon points="309.0,338.6 310.0,334.0 311.5,330.0 313.0,327.0 314.0,331.0 315.0,334.0 316.4,338.6"/>
<polygon points="319.0,338.6 319.6,324.0 320.4,318.0 321.2,321.0 322.0,319.0 323.0,322.0 323.8,326.0 324.4,318.0 325.0,313.0 326.0,316.0 327.0,320.0 328.0,321.0 328.4,338.6"/>
<polygon points="386.4,338.6 387.0,336.4 387.6,338.6"/>
<polygon points="392.4,338.6 393.0,336.4 393.6,338.6"/>
<polygon points="408.0,338.6 408.2,332.0 409.0,331.0 410.0,330.0 411.0,332.0 412.0,333.0 413.0,329.0 414.0,326.0 415.0,328.0 416.0,329.0 417.0,325.0 418.0,322.0 419.0,326.0 420.0,328.0 421.0,329.0 422.0,330.0 423.0,329.0 424.0,328.0 425.0,330.0 426.0,331.0 427.0,332.0 428.0,333.0 429.0,331.0 430.0,329.0 431.0,327.0 432.0,326.0 433.0,322.0 433.6,320.0 434.0,308.0 434.4,300.0 435.0,295.0 435.6,292.0 436.3,284.0 437.0,276.0 437.7,268.0 438.4,260.0 439.2,252.0 440.0,244.0 440.7,234.0 441.4,224.0 442.0,229.0 442.4,228.0 443.2,225.0 444.0,222.0 444.8,213.0 445.6,204.0 446.4,196.4 447.2,203.0 448.0,208.0 449.0,204.0 450.0,200.0 450.6,205.0 451.0,210.0 451.6,220.0 452.0,228.0 453.0,240.0 454.0,260.0 455.0,280.0 455.7,292.0 456.4,304.0 457.2,308.0 458.0,312.0 458.6,320.0 459.0,328.0 459.6,338.6"/>
<polygon points="516.3,338.6 517.0,333.6 517.8,338.6"/>
<polygon points="535.4,338.6 535.5,330.0 536.4,320.0 537.2,314.0 538.0,308.0 538.8,304.0 539.6,300.0 540.3,297.0 541.0,294.0 541.5,292.0 542.0,291.0 542.5,294.0 543.0,298.0 543.7,300.0 544.4,302.0 545.2,302.5 546.0,303.0 546.8,300.0 547.6,298.0 548.1,302.0 548.6,306.0 549.1,316.0 549.6,326.0 549.9,338.6"/>
<polygon points="551.2,338.6 551.4,333.0 552.2,332.0 553.0,331.0 553.7,331.5 554.4,332.0 555.0,327.0 555.6,322.0 556.1,316.0 556.6,310.0 557.1,303.0 557.6,296.0 558.3,298.0 559.0,300.0 559.5,295.0 560.0,290.0 560.5,283.0 561.0,276.0 561.5,270.0 562.0,264.0 562.5,257.0 563.0,250.0 563.5,231.0 564.0,213.0 564.8,211.5 565.6,210.0 566.1,201.0 566.6,193.0 567.3,192.0 568.0,194.0 568.7,200.0 569.4,206.0 570.2,215.0 571.0,223.0 571.5,221.0 572.0,220.0 572.5,211.0 573.0,203.0 573.7,202.0 574.4,202.0 574.8,216.0 575.2,230.0 575.6,244.0 576.0,258.0 576.5,265.0 577.0,278.0 577.6,290.0 578.3,300.0 579.0,310.0 579.5,318.0 580.0,326.0 580.6,338.6"/></clipPath>
<clipPath id="cr"><polygon points="71.5,338.6 72.0,345.0 73.0,352.0 74.0,357.0 75.0,360.0 76.0,358.0 77.0,362.0 78.0,364.0 79.0,366.0 80.0,363.0 81.0,360.0 82.0,357.0 83.0,355.0 84.0,353.0 85.0,351.0 86.0,350.0 86.6,340.0 87.4,340.0 88.0,342.0 89.0,347.0 90.0,349.0 91.0,347.0 92.4,346.0 93.0,338.6"/>
<polygon points="140.4,338.6 141.0,345.0 142.0,355.0 143.0,367.0 144.0,377.0 145.0,383.0 146.0,381.0 147.0,383.0 148.0,382.0 149.0,380.0 150.0,378.0 151.0,381.0 152.0,384.4 152.6,380.0 153.2,368.0 154.0,360.0 155.0,352.0 156.0,344.0 156.4,338.6"/>
<polygon points="191.6,338.6 192.0,344.0 193.0,349.0 194.5,351.0 196.0,354.0 197.5,356.0 199.0,359.0 200.0,359.0 201.0,360.0 201.6,366.0 202.3,374.0 203.0,379.0 204.0,375.0 205.0,373.0 206.0,372.0 207.0,371.0 208.0,375.0 209.0,378.0 210.0,375.0 211.0,373.0 212.0,371.0 213.0,370.0 214.0,369.0 215.0,368.0 215.5,360.0 216.0,350.0 216.6,344.0 217.0,338.6"/>
<polygon points="256.4,338.6 256.6,346.0 257.3,344.0 258.0,342.0 259.0,345.0 260.0,346.0 261.0,347.0 262.0,348.0 263.0,349.0 264.0,350.0 265.0,352.0 266.0,354.0 267.0,355.0 268.0,356.0 269.0,358.0 269.6,357.0 270.0,338.6"/>
<polygon points="298.4,338.6 298.8,345.0 299.2,346.0 299.8,338.6"/>
<polygon points="301.0,338.6 301.6,343.0 302.3,348.0 303.0,350.0 304.0,349.0 305.0,348.0 306.0,347.0 307.0,346.0 308.0,343.0 309.0,341.0 309.5,338.6"/>
<polygon points="315.6,338.6 316.0,343.0 316.6,338.6"/>
<polygon points="328.4,338.6 328.6,345.0 329.8,346.0 331.0,347.0 332.0,345.0 333.0,344.0 333.5,355.0 334.0,366.0 335.0,370.0 336.0,373.0 337.0,371.0 338.0,372.0 339.0,371.0 340.0,376.0 341.0,379.0 341.6,374.0 342.0,370.0 342.5,358.0 343.0,348.0 344.0,352.0 345.0,356.0 346.0,355.0 347.0,354.0 348.0,356.0 349.0,358.0 350.0,362.0 351.0,366.0 352.0,370.0 353.0,374.0 354.0,379.0 355.0,384.0 356.0,394.0 357.0,404.0 358.0,411.0 359.0,418.0 360.0,421.0 361.0,423.0 362.0,424.5 363.0,425.0 363.5,432.0 364.0,440.0 364.8,445.0 365.6,450.0 366.1,454.0 366.6,457.0 367.3,455.0 368.0,452.0 368.5,449.0 369.0,445.0 369.5,436.0 370.0,426.0 370.8,419.0 371.6,412.0 372.3,407.0 373.0,402.0 374.0,396.0 375.0,390.0 376.0,386.0 377.0,382.0 377.5,376.0 378.0,370.0 379.0,364.0 380.0,358.0 381.0,353.0 382.0,348.0 383.0,344.0 384.0,341.0 385.0,338.6"/>
<polygon points="388.0,338.6 388.4,345.0 390.0,346.0 391.6,344.0 392.0,338.6"/>
<polygon points="393.8,338.6 394.0,354.0 395.0,353.5 396.0,353.0 397.0,354.0 398.0,354.0 399.0,351.0 400.0,349.0 401.0,350.0 402.0,350.0 403.0,348.0 404.0,347.0 405.0,349.0 406.0,350.0 407.0,347.5 407.6,347.0 408.0,338.6"/>
<polygon points="459.6,338.6 460.0,347.0 460.4,349.0 461.2,349.5 462.0,350.0 462.5,363.0 463.0,376.0 463.7,379.0 464.4,382.0 465.2,385.0 466.0,388.0 466.5,392.0 466.8,418.0 467.2,418.0 467.5,392.0 468.0,392.0 469.0,390.0 469.5,394.0 470.0,398.0 470.8,403.0 471.6,408.0 472.3,414.0 473.0,420.0 473.7,425.0 474.4,430.0 475.2,435.0 476.0,440.0 476.4,442.0 477.2,444.0 478.0,446.0 478.8,447.0 479.6,448.0 480.0,458.0 480.4,459.0 480.8,451.0 481.6,450.0 482.3,449.5 483.0,449.0 483.7,445.0 484.4,442.0 485.0,437.0 485.6,432.0 486.3,430.0 487.0,428.0 487.5,422.0 488.0,416.0 488.8,414.0 489.6,412.0 490.3,413.0 491.0,415.0 491.7,418.0 492.4,422.0 493.0,420.0 493.6,418.0 494.0,412.0 494.4,406.0 495.0,395.0 495.5,384.0 496.4,380.0 497.2,378.0 498.0,376.0 498.5,370.0 499.0,364.0 499.5,361.0 500.0,358.0 500.8,356.0 501.6,354.0 502.3,352.0 503.0,350.0 503.5,351.5 504.0,353.0 505.0,350.0 506.0,348.0 507.0,350.0 508.0,352.0 509.0,351.0 510.0,350.0 511.0,352.0 512.0,354.0 513.0,351.0 514.0,349.0 514.8,345.0 515.6,342.0 516.2,340.0 518.0,341.0 518.8,343.0 519.6,345.0 520.8,344.0 522.0,343.0 523.0,345.0 524.0,348.0 525.0,349.0 526.0,350.0 527.0,348.0 528.0,347.0 529.0,350.0 530.0,354.0 530.8,353.0 531.6,352.0 532.3,354.0 533.0,356.0 533.7,357.0 534.4,358.0 535.0,350.0 535.4,338.6"/>
<polygon points="550.2,338.6 550.6,341.0 551.0,338.6"/>
<polygon points="580.6,338.6 581.0,345.0 581.6,350.0 582.6,351.0 583.6,352.0 584.3,351.0 585.0,350.0 585.7,357.0 586.4,364.0 587.0,368.0 587.6,371.0 588.3,364.0 589.0,358.0 589.7,358.5 590.4,359.0 591.2,356.0 592.0,354.0 592.8,352.0 593.6,350.0 594.3,347.0 595.0,344.0 595.7,347.0 596.4,350.0 597.0,352.0 597.6,354.0 598.3,351.0 599.0,348.0 599.7,350.0 600.4,352.0 601.2,355.0 602.0,359.0 602.8,363.0 603.6,368.0 604.3,369.0 605.0,370.0 605.7,368.0 606.4,366.0 607.2,367.0 608.0,368.0 608.8,366.0 609.6,364.0 610.3,364.5 611.0,365.0 611.7,365.5 612.4,366.0 613.2,363.0 614.0,360.0 614.8,361.0 615.6,362.0 616.3,360.0 617.0,358.0 617.7,363.0 618.4,368.0 619.2,371.0 620.0,374.0 620.8,377.0 621.6,380.0 622.3,383.0 623.0,386.0 623.6,389.0 624.4,384.0 625.2,386.0 626.0,388.0 626.8,387.5 627.6,387.0 628.3,390.0 628.8,397.0 629.3,397.0 629.6,388.0 630.0,386.0 630.2,338.6"/></clipPath>
<g clip-path="url(#cg)" stroke="#3f6b39" stroke-width="1" opacity="0.8"><line x1="70.7" y1="180" x2="70.7" y2="338.6"/><line x1="77.6" y1="180" x2="77.6" y2="338.6"/><line x1="84.5" y1="180" x2="84.5" y2="338.6"/><line x1="91.4" y1="180" x2="91.4" y2="338.6"/><line x1="98.3" y1="180" x2="98.3" y2="338.6"/><line x1="105.2" y1="180" x2="105.2" y2="338.6"/><line x1="112.1" y1="180" x2="112.1" y2="338.6"/><line x1="119.0" y1="180" x2="119.0" y2="338.6"/><line x1="125.9" y1="180" x2="125.9" y2="338.6"/><line x1="132.8" y1="180" x2="132.8" y2="338.6"/><line x1="139.7" y1="180" x2="139.7" y2="338.6"/><line x1="146.6" y1="180" x2="146.6" y2="338.6"/><line x1="153.5" y1="180" x2="153.5" y2="338.6"/><line x1="160.4" y1="180" x2="160.4" y2="338.6"/><line x1="167.3" y1="180" x2="167.3" y2="338.6"/><line x1="174.2" y1="180" x2="174.2" y2="338.6"/><line x1="181.1" y1="180" x2="181.1" y2="338.6"/><line x1="188.0" y1="180" x2="188.0" y2="338.6"/><line x1="194.9" y1="180" x2="194.9" y2="338.6"/><line x1="201.8" y1="180" x2="201.8" y2="338.6"/><line x1="208.7" y1="180" x2="208.7" y2="338.6"/><line x1="215.6" y1="180" x2="215.6" y2="338.6"/><line x1="222.5" y1="180" x2="222.5" y2="338.6"/><line x1="229.4" y1="180" x2="229.4" y2="338.6"/><line x1="236.3" y1="180" x2="236.3" y2="338.6"/><line x1="243.2" y1="180" x2="243.2" y2="338.6"/><line x1="250.1" y1="180" x2="250.1" y2="338.6"/><line x1="257.0" y1="180" x2="257.0" y2="338.6"/><line x1="263.9" y1="180" x2="263.9" y2="338.6"/><line x1="270.8" y1="180" x2="270.8" y2="338.6"/><line x1="277.7" y1="180" x2="277.7" y2="338.6"/><line x1="284.6" y1="180" x2="284.6" y2="338.6"/><line x1="291.5" y1="180" x2="291.5" y2="338.6"/><line x1="298.4" y1="180" x2="298.4" y2="338.6"/><line x1="305.3" y1="180" x2="305.3" y2="338.6"/><line x1="312.2" y1="180" x2="312.2" y2="338.6"/><line x1="319.1" y1="180" x2="319.1" y2="338.6"/><line x1="326.0" y1="180" x2="326.0" y2="338.6"/><line x1="332.9" y1="180" x2="332.9" y2="338.6"/><line x1="339.8" y1="180" x2="339.8" y2="338.6"/><line x1="346.7" y1="180" x2="346.7" y2="338.6"/><line x1="353.6" y1="180" x2="353.6" y2="338.6"/><line x1="360.5" y1="180" x2="360.5" y2="338.6"/><line x1="367.4" y1="180" x2="367.4" y2="338.6"/><line x1="374.3" y1="180" x2="374.3" y2="338.6"/><line x1="381.2" y1="180" x2="381.2" y2="338.6"/><line x1="388.1" y1="180" x2="388.1" y2="338.6"/><line x1="395.0" y1="180" x2="395.0" y2="338.6"/><line x1="401.9" y1="180" x2="401.9" y2="338.6"/><line x1="408.8" y1="180" x2="408.8" y2="338.6"/><line x1="415.7" y1="180" x2="415.7" y2="338.6"/><line x1="422.6" y1="180" x2="422.6" y2="338.6"/><line x1="429.5" y1="180" x2="429.5" y2="338.6"/><line x1="436.4" y1="180" x2="436.4" y2="338.6"/><line x1="443.3" y1="180" x2="443.3" y2="338.6"/><line x1="450.2" y1="180" x2="450.2" y2="338.6"/><line x1="457.1" y1="180" x2="457.1" y2="338.6"/><line x1="464.0" y1="180" x2="464.0" y2="338.6"/><line x1="470.9" y1="180" x2="470.9" y2="338.6"/><line x1="477.8" y1="180" x2="477.8" y2="338.6"/><line x1="484.7" y1="180" x2="484.7" y2="338.6"/><line x1="491.6" y1="180" x2="491.6" y2="338.6"/><line x1="498.5" y1="180" x2="498.5" y2="338.6"/><line x1="505.4" y1="180" x2="505.4" y2="338.6"/><line x1="512.3" y1="180" x2="512.3" y2="338.6"/><line x1="519.2" y1="180" x2="519.2" y2="338.6"/><line x1="526.1" y1="180" x2="526.1" y2="338.6"/><line x1="533.0" y1="180" x2="533.0" y2="338.6"/><line x1="539.9" y1="180" x2="539.9" y2="338.6"/><line x1="546.8" y1="180" x2="546.8" y2="338.6"/><line x1="553.7" y1="180" x2="553.7" y2="338.6"/><line x1="560.6" y1="180" x2="560.6" y2="338.6"/><line x1="567.5" y1="180" x2="567.5" y2="338.6"/><line x1="574.4" y1="180" x2="574.4" y2="338.6"/><line x1="581.3" y1="180" x2="581.3" y2="338.6"/><line x1="588.2" y1="180" x2="588.2" y2="338.6"/><line x1="595.1" y1="180" x2="595.1" y2="338.6"/><line x1="602.0" y1="180" x2="602.0" y2="338.6"/><line x1="608.9" y1="180" x2="608.9" y2="338.6"/><line x1="615.8" y1="180" x2="615.8" y2="338.6"/><line x1="622.7" y1="180" x2="622.7" y2="338.6"/><line x1="629.6" y1="180" x2="629.6" y2="338.6"/><line x1="636.5" y1="180" x2="636.5" y2="338.6"/></g>
<g clip-path="url(#cr)" stroke="#7a3f3b" stroke-width="1.1" opacity="0.85"><line x1="74.3" y1="338.6" x2="74.3" y2="470"/><line x1="81.2" y1="338.6" x2="81.2" y2="470"/><line x1="88.1" y1="338.6" x2="88.1" y2="470"/><line x1="95.0" y1="338.6" x2="95.0" y2="470"/><line x1="101.9" y1="338.6" x2="101.9" y2="470"/><line x1="108.8" y1="338.6" x2="108.8" y2="470"/><line x1="115.7" y1="338.6" x2="115.7" y2="470"/><line x1="122.6" y1="338.6" x2="122.6" y2="470"/><line x1="129.5" y1="338.6" x2="129.5" y2="470"/><line x1="136.4" y1="338.6" x2="136.4" y2="470"/><line x1="143.3" y1="338.6" x2="143.3" y2="470"/><line x1="150.2" y1="338.6" x2="150.2" y2="470"/><line x1="157.1" y1="338.6" x2="157.1" y2="470"/><line x1="164.0" y1="338.6" x2="164.0" y2="470"/><line x1="170.9" y1="338.6" x2="170.9" y2="470"/><line x1="177.8" y1="338.6" x2="177.8" y2="470"/><line x1="184.7" y1="338.6" x2="184.7" y2="470"/><line x1="191.6" y1="338.6" x2="191.6" y2="470"/><line x1="198.5" y1="338.6" x2="198.5" y2="470"/><line x1="205.4" y1="338.6" x2="205.4" y2="470"/><line x1="212.3" y1="338.6" x2="212.3" y2="470"/><line x1="219.2" y1="338.6" x2="219.2" y2="470"/><line x1="226.1" y1="338.6" x2="226.1" y2="470"/><line x1="233.0" y1="338.6" x2="233.0" y2="470"/><line x1="239.9" y1="338.6" x2="239.9" y2="470"/><line x1="246.8" y1="338.6" x2="246.8" y2="470"/><line x1="253.7" y1="338.6" x2="253.7" y2="470"/><line x1="260.6" y1="338.6" x2="260.6" y2="470"/><line x1="267.5" y1="338.6" x2="267.5" y2="470"/><line x1="274.4" y1="338.6" x2="274.4" y2="470"/><line x1="281.3" y1="338.6" x2="281.3" y2="470"/><line x1="288.2" y1="338.6" x2="288.2" y2="470"/><line x1="295.1" y1="338.6" x2="295.1" y2="470"/><line x1="302.0" y1="338.6" x2="302.0" y2="470"/><line x1="308.9" y1="338.6" x2="308.9" y2="470"/><line x1="315.8" y1="338.6" x2="315.8" y2="470"/><line x1="322.7" y1="338.6" x2="322.7" y2="470"/><line x1="329.6" y1="338.6" x2="329.6" y2="470"/><line x1="336.5" y1="338.6" x2="336.5" y2="470"/><line x1="343.4" y1="338.6" x2="343.4" y2="470"/><line x1="350.3" y1="338.6" x2="350.3" y2="470"/><line x1="357.2" y1="338.6" x2="357.2" y2="470"/><line x1="364.1" y1="338.6" x2="364.1" y2="470"/><line x1="371.0" y1="338.6" x2="371.0" y2="470"/><line x1="377.9" y1="338.6" x2="377.9" y2="470"/><line x1="384.8" y1="338.6" x2="384.8" y2="470"/><line x1="391.7" y1="338.6" x2="391.7" y2="470"/><line x1="398.6" y1="338.6" x2="398.6" y2="470"/><line x1="405.5" y1="338.6" x2="405.5" y2="470"/><line x1="412.4" y1="338.6" x2="412.4" y2="470"/><line x1="419.3" y1="338.6" x2="419.3" y2="470"/><line x1="426.2" y1="338.6" x2="426.2" y2="470"/><line x1="433.1" y1="338.6" x2="433.1" y2="470"/><line x1="440.0" y1="338.6" x2="440.0" y2="470"/><line x1="446.9" y1="338.6" x2="446.9" y2="470"/><line x1="453.8" y1="338.6" x2="453.8" y2="470"/><line x1="460.7" y1="338.6" x2="460.7" y2="470"/><line x1="467.6" y1="338.6" x2="467.6" y2="470"/><line x1="474.5" y1="338.6" x2="474.5" y2="470"/><line x1="481.4" y1="338.6" x2="481.4" y2="470"/><line x1="488.3" y1="338.6" x2="488.3" y2="470"/><line x1="495.2" y1="338.6" x2="495.2" y2="470"/><line x1="502.1" y1="338.6" x2="502.1" y2="470"/><line x1="509.0" y1="338.6" x2="509.0" y2="470"/><line x1="515.9" y1="338.6" x2="515.9" y2="470"/><line x1="522.8" y1="338.6" x2="522.8" y2="470"/><line x1="529.7" y1="338.6" x2="529.7" y2="470"/><line x1="536.6" y1="338.6" x2="536.6" y2="470"/><line x1="543.5" y1="338.6" x2="543.5" y2="470"/><line x1="550.4" y1="338.6" x2="550.4" y2="470"/><line x1="557.3" y1="338.6" x2="557.3" y2="470"/><line x1="564.2" y1="338.6" x2="564.2" y2="470"/><line x1="571.1" y1="338.6" x2="571.1" y2="470"/><line x1="578.0" y1="338.6" x2="578.0" y2="470"/><line x1="584.9" y1="338.6" x2="584.9" y2="470"/><line x1="591.8" y1="338.6" x2="591.8" y2="470"/><line x1="598.7" y1="338.6" x2="598.7" y2="470"/><line x1="605.6" y1="338.6" x2="605.6" y2="470"/><line x1="612.5" y1="338.6" x2="612.5" y2="470"/><line x1="619.4" y1="338.6" x2="619.4" y2="470"/><line x1="626.3" y1="338.6" x2="626.3" y2="470"/><line x1="633.2" y1="338.6" x2="633.2" y2="470"/></g>
<line x1="68" y1="338.70000000000005" x2="632" y2="338.70000000000005" stroke="#111114" stroke-width="0.9"/>
<line x1="70" y1="229.6" x2="631" y2="229.6" stroke="#c9c9cc" stroke-width="1" stroke-dasharray="1.8 1.6" opacity="0.25"/>
<text x="74.5" y="228.79999999999998" font-size="6.8" fill="#8f8f93" textLength="45.5" lengthAdjust="spacingAndGlyphs">+750k BTC/30D</text>
<line x1="70" y1="266" x2="631" y2="266" stroke="#c9c9cc" stroke-width="1" stroke-dasharray="1.8 1.6" opacity="0.25"/>
<text x="74.5" y="265.2" font-size="6.8" fill="#8f8f93" textLength="45.5" lengthAdjust="spacingAndGlyphs">+500k BTC/30D</text>
<line x1="70" y1="302.6" x2="631" y2="302.6" stroke="#c9c9cc" stroke-width="1" stroke-dasharray="1.8 1.6" opacity="0.25"/>
<text x="74.5" y="301.8" font-size="6.8" fill="#8f8f93" textLength="45.5" lengthAdjust="spacingAndGlyphs">+250k BTC/30D</text>
<line x1="70" y1="374.6" x2="631" y2="374.6" stroke="#c9c9cc" stroke-width="1" stroke-dasharray="1.8 1.6" opacity="0.25"/>
<text x="74.5" y="373.8" font-size="6.8" fill="#8f8f93" textLength="45.5" lengthAdjust="spacingAndGlyphs">-250k BTC/30D</text>
<line x1="70" y1="411" x2="631" y2="411" stroke="#c9c9cc" stroke-width="1" stroke-dasharray="1.8 1.6" opacity="0.25"/>
<text x="74.5" y="410.2" font-size="6.8" fill="#8f8f93" textLength="45.5" lengthAdjust="spacingAndGlyphs">-500k BTC/30D</text>
<line x1="70" y1="447.5" x2="631" y2="447.5" stroke="#c9c9cc" stroke-width="1" stroke-dasharray="1.8 1.6" opacity="0.25"/>
<text x="74.5" y="446.7" font-size="6.8" fill="#8f8f93" textLength="45.5" lengthAdjust="spacingAndGlyphs">-750k BTC/30D</text>
<text x="60" y="216" font-size="8.4" font-weight="bold" fill="#f2f2f2" text-anchor="end" textLength="17.8" lengthAdjust="spacingAndGlyphs">100K</text>
<text x="60" y="228" font-size="8.4" font-weight="bold" fill="#f2f2f2" text-anchor="end" textLength="13.6" lengthAdjust="spacingAndGlyphs">90K</text>
<text x="60" y="241" font-size="8.4" font-weight="bold" fill="#f2f2f2" text-anchor="end" textLength="13.6" lengthAdjust="spacingAndGlyphs">80K</text>
<text x="60" y="256" font-size="8.4" font-weight="bold" fill="#f2f2f2" text-anchor="end" textLength="13.6" lengthAdjust="spacingAndGlyphs">70K</text>
<text x="60" y="273" font-size="8.4" font-weight="bold" fill="#f2f2f2" text-anchor="end" textLength="13.6" lengthAdjust="spacingAndGlyphs">60K</text>
<text x="60" y="293" font-size="8.4" font-weight="bold" fill="#f2f2f2" text-anchor="end" textLength="13.6" lengthAdjust="spacingAndGlyphs">50K</text>
<text x="60" y="318" font-size="8.4" font-weight="bold" fill="#f2f2f2" text-anchor="end" textLength="13.6" lengthAdjust="spacingAndGlyphs">40K</text>
<text x="60" y="350" font-size="8.4" font-weight="bold" fill="#f2f2f2" text-anchor="end" textLength="13.6" lengthAdjust="spacingAndGlyphs">30K</text>
<text x="60" y="396" font-size="8.4" font-weight="bold" fill="#f2f2f2" text-anchor="end" textLength="13.6" lengthAdjust="spacingAndGlyphs">20K</text>
<text x="60" y="474" font-size="8.4" font-weight="bold" fill="#f2f2f2" text-anchor="end" textLength="13.6" lengthAdjust="spacingAndGlyphs">10K</text>
<text x="640" y="195.6" font-size="8.4" font-weight="bold" fill="#f2f2f2" textLength="12" lengthAdjust="spacingAndGlyphs">1M</text>
<text x="640" y="268" font-size="8.4" font-weight="bold" fill="#f2f2f2" textLength="18" lengthAdjust="spacingAndGlyphs">500K</text>
<text x="640" y="340.6" font-size="8.4" font-weight="bold" fill="#f2f2f2" textLength="4.6" lengthAdjust="spacingAndGlyphs">0</text>
<text x="640" y="413.6" font-size="8.4" font-weight="bold" fill="#f2f2f2" textLength="21.6" lengthAdjust="spacingAndGlyphs">-500K</text>
<text x="107.6" y="485" font-size="7.4" fill="#8f8f93" text-anchor="middle" textLength="28" lengthAdjust="spacingAndGlyphs">2022 Sep</text>
<text x="163" y="485" font-size="7.4" fill="#8f8f93" text-anchor="middle" textLength="26" lengthAdjust="spacingAndGlyphs">2023 Jan</text>
<text x="217.5" y="485" font-size="7.4" fill="#8f8f93" text-anchor="middle" textLength="29" lengthAdjust="spacingAndGlyphs">2023 May</text>
<text x="273" y="485" font-size="7.4" fill="#8f8f93" text-anchor="middle" textLength="28" lengthAdjust="spacingAndGlyphs">2023 Sep</text>
<text x="328" y="485" font-size="7.4" fill="#8f8f93" text-anchor="middle" textLength="26" lengthAdjust="spacingAndGlyphs">2024 Jan</text>
<text x="381.6" y="485" font-size="7.4" fill="#8f8f93" text-anchor="middle" textLength="29" lengthAdjust="spacingAndGlyphs">2024 May</text>
<text x="437.4" y="485" font-size="7.4" fill="#8f8f93" text-anchor="middle" textLength="28" lengthAdjust="spacingAndGlyphs">2024 Sep</text>
<text x="492.6" y="485" font-size="7.4" fill="#8f8f93" text-anchor="middle" textLength="26" lengthAdjust="spacingAndGlyphs">2025 Jan</text>
<text x="546.6" y="485" font-size="7.4" fill="#8f8f93" text-anchor="middle" textLength="29" lengthAdjust="spacingAndGlyphs">2025 May</text>
<text x="603" y="485" font-size="7.4" fill="#8f8f93" text-anchor="middle" textLength="28" lengthAdjust="spacingAndGlyphs">2025 Sep</text>
<text transform="translate(36.4,324.7) rotate(-90)" font-size="8.2" fill="#f0f0f0" text-anchor="middle" textLength="34.8" lengthAdjust="spacingAndGlyphs">BTC Price</text>
<text transform="translate(667.4,324.4) rotate(90)" font-size="8.2" fill="#f0f0f0" text-anchor="middle" textLength="71.7" lengthAdjust="spacingAndGlyphs">Change - 30D Sum</text>
<text x="165.7" y="148" font-size="13" font-weight="bold" fill="#ffffff" textLength="371.5" lengthAdjust="spacingAndGlyphs">Bitcoin: Long-Term Holder Net Position Change - 30D Sum</text>
<line x1="224.5" y1="163.4" x2="235.8" y2="163.4" stroke="#3f30a6" stroke-width="1" opacity="0.6"/>
<text x="238" y="165.6" font-size="8.3" fill="#e8e8e8" textLength="18" lengthAdjust="spacingAndGlyphs">price</text>
<circle cx="270.8" cy="161.8" r="4" fill="#6ba861"/>
<text x="278" y="165.6" font-size="8.3" fill="#e8e8e8" textLength="87.5" lengthAdjust="spacingAndGlyphs">positive_difference_30d</text>
<circle cx="380.4" cy="161.8" r="4" fill="#c26f68"/>
<text x="387.6" y="165.6" font-size="8.3" fill="#e8e8e8" textLength="89.5" lengthAdjust="spacingAndGlyphs">negative_difference_30d</text>
<path d="M239.6 496.2 Q240.6 495.6 240.6 493.6 Q240.6 490.6 242.5 490.6 Q244.4 490.6 244.4 493.6 Q244.4 495.6 245.4 496.2 Z" fill="#f6c21c"/><path d="M239.6 496.2 H245.4 V496.9 H239.6 Z" fill="#d6901a"/><circle cx="242.5" cy="497.2" r="0.7" fill="#d6901a"/>
<text x="249" y="496.5" font-size="7.2" fill="#a9a9ad" textLength="212.6" lengthAdjust="spacingAndGlyphs">Explore Actionable &amp; Free On-Chain Insights: <tspan text-decoration="underline">https://x.com/JA_Maartun</tspan></text>
<text x="673" y="496.5" font-size="5.6" fill="#8f8f93" text-anchor="end" textLength="85" lengthAdjust="spacingAndGlyphs">© CryptoQuant. All rights reserved</text>
</svg>
</div>
</body>
</html>
